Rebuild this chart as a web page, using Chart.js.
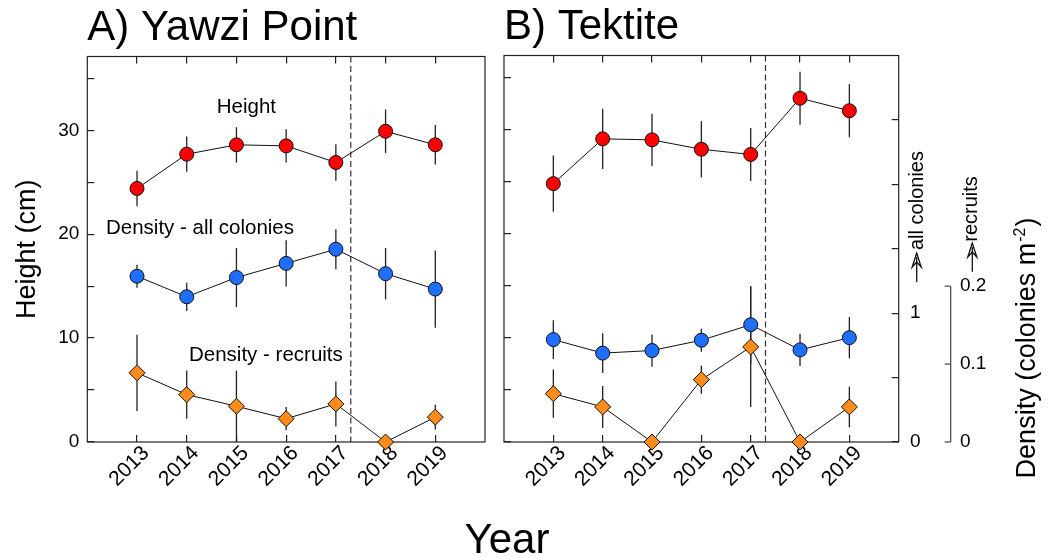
<!DOCTYPE html>
<html>
<head>
<meta charset="utf-8">
<script src="https://cdn.jsdelivr.net/npm/chart.js@4.4.1/dist/chart.umd.min.js"></script>
<style>
  html, body { margin: 0; padding: 0; background: #fff; }
  #wrap { position: relative; width: 1053px; height: 558px; overflow: hidden; font-family: "Liberation Sans", Arial, sans-serif; }
  .panel { position: absolute; top: 0; height: 558px; }
  #panelA { left: 0; width: 495px; }
  #panelB { left: 495px; width: 558px; }
  #yearLabel { position: absolute; left: 0; width: 1014px; top: 518px; text-align: center; font-size: 42px; line-height: 42px; color: #000; }
</style>
</head>
<body>
<div id="wrap">
  <div class="panel" id="panelA"><canvas id="chartA"></canvas></div>
  <div class="panel" id="panelB"><canvas id="chartB"></canvas></div>
  <div id="yearLabel">Year</div>
</div>
<script>
const FONT = '"Liberation Sans", Arial, sans-serif';
Chart.defaults.font.family = FONT;
Chart.defaults.color = '#000';

// axes
const years = [2013, 2014, 2015, 2016, 2017, 2018, 2019];
const heightTicks = [0, 5, 10, 15, 20, 25, 30, 35];
const heightLabels = [0, 10, 20, 30];
const allTicks = [0, 0.5, 1, 1.5, 2, 2.5];
const allLabels = [0, 1];
const recruitTicks = [0, 0.1, 0.2];
const stormYear = 2017.3;

// A) Yawzi Point
const yawziHeight = [24.4, 27.7, 28.6, 28.5, 26.9, 29.9, 28.6];
const yawziHeightErr = [1.7, 1.7, 1.7, 1.6, 1.75, 2.1, 1.9];
const yawziAll = [1.29, 1.13, 1.28, 1.39, 1.50, 1.31, 1.19];
const yawziAllErr = [0.09, 0.11, 0.23, 0.18, 0.155, 0.2, 0.3];
const yawziRecruits = [0.089, 0.061, 0.046, 0.030, 0.049, 0, 0.032];
const yawziRecruitsErr = [0.049, 0.031, 0.046, 0.015, 0.029, 0, 0.016];

// B) Tektite
const tektiteHeight = [24.8, 29.1, 29.0, 28.1, 27.6, 33.0, 31.8];
const tektiteHeightErr = [2.7, 2.9, 2.5, 2.7, 2.55, 2.55, 2.55];
const tektiteAll = [0.795, 0.69, 0.71, 0.79, 0.91, 0.715, 0.81];
const tektiteAllErr = [0.15, 0.155, 0.125, 0.09, 0.3, 0.125, 0.16];
const tektiteRecruits = [0.062, 0.045, 0, 0.080, 0.122, 0, 0.045];
const tektiteRecruitsErr = [0.031, 0.027, 0, 0.018, 0.077, 0, 0.026];

const RED = '#ff0000', BLUE = '#1e6eff', ORANGE = '#ff8c1a';

function series(values, errs, yAxisID, color, shape, radius) {
    return {
        data: years.map((x, i) => ({ x: x, y: values[i] })),
        errors: errs,
        yAxisID: yAxisID,
        borderColor: '#111',
        borderWidth: 1,
        pointBackgroundColor: color,
        pointBorderColor: '#111',
        pointBorderWidth: 1,
        pointStyle: shape,
        pointRadius: radius,
        pointHoverRadius: radius,
        clip: false,
        tension: 0
    };
}

// box around the plot + dashed line
const framePlugin = {
    id: 'frame',
    beforeDatasetsDraw(chart) {
        const { ctx, chartArea: a } = chart;
        const xs = chart.scales.x;
        ctx.save();
        ctx.strokeStyle = '#222';
        ctx.lineWidth = 1.2;
        ctx.strokeRect(a.left, a.top, a.right - a.left, a.bottom - a.top);
        const px = xs.getPixelForValue(stormYear);
        ctx.setLineDash([6, 3.5]);
        ctx.strokeStyle = '#333';
        ctx.beginPath();
        ctx.moveTo(px, a.top);
        ctx.lineTo(px, a.bottom);
        ctx.stroke();
        ctx.restore();
    }
};

const errorBars = {
    id: 'errorBars',
    beforeDatasetsDraw(chart) {
        const ctx = chart.ctx;
        const xs = chart.scales.x;
        ctx.save();
        ctx.strokeStyle = '#222';
        ctx.lineWidth = 1.3;
        chart.data.datasets.forEach(ds => {
            const ys = chart.scales[ds.yAxisID];
            ds.data.forEach((p, i) => {
                const e = ds.errors[i];
                if (!e) return;
                const px = xs.getPixelForValue(p.x);
                ctx.beginPath();
                ctx.moveTo(px, ys.getPixelForValue(p.y - e));
                ctx.lineTo(px, ys.getPixelForValue(p.y + e));
                ctx.stroke();
            });
        });
        ctx.restore();
    }
};

// series names written inside panel A
const seriesNotes = {
    id: 'seriesNotes',
    afterDatasetsDraw(chart) {
        const { ctx, chartArea: a } = chart;
        ctx.save();
        ctx.fillStyle = '#000';
        ctx.font = '20.5px ' + FONT;
        ctx.textBaseline = 'alphabetic';
        ctx.textAlign = 'left';
        ctx.fillText('Height', a.left + 129.5, a.top + 56.2);
        ctx.fillText('Density - all colonies', a.left + 18.7, a.top + 177.8);
        ctx.fillText('Density - recruits', a.left + 101.7, a.top + 304.5);
        ctx.restore();
    }
};

function upArrow(ctx, x, yTail, yTip) {
    ctx.beginPath();
    ctx.moveTo(x, yTail);
    ctx.lineTo(x, yTip + 4);
    ctx.stroke();
    ctx.beginPath();
    ctx.moveTo(x, yTip);
    ctx.lineTo(x - 4.5, yTip + 14);
    ctx.lineTo(x, yTip + 9);
    ctx.lineTo(x + 4.5, yTip + 14);
    ctx.closePath();
    ctx.stroke();
}

function rotatedText(ctx, text, x, y, font) {
    ctx.save();
    ctx.translate(x, y);
    ctx.rotate(-Math.PI / 2);
    ctx.font = font;
    ctx.textAlign = 'left';
    ctx.textBaseline = 'alphabetic';
    ctx.fillText(text, 0, 0);
    ctx.restore();
}

// recruits axis line, arrows and density title on the right of panel B
const densityExtras = {
    id: 'densityExtras',
    afterDraw(chart) {
        const { ctx, chartArea: a } = chart;
        const rec = chart.scales.yRec;
        const ax = rec.left;
        ctx.save();
        ctx.strokeStyle = '#444';
        ctx.fillStyle = '#000';
        ctx.lineWidth = 1.2;
        ctx.beginPath();
        ctx.moveTo(ax, rec.getPixelForValue(0));
        ctx.lineTo(ax, rec.getPixelForValue(0.2));
        ctx.stroke();
        recruitTicks.forEach(v => {
            const py = rec.getPixelForValue(v);
            ctx.beginPath();
            ctx.moveTo(ax - 6, py);
            ctx.lineTo(ax, py);
            ctx.stroke();
        });

        ctx.strokeStyle = '#111';
        ctx.lineWidth = 1.3;
        rotatedText(ctx, 'all colonies', a.right + 24.3, 250, '20px ' + FONT);
        upArrow(ctx, a.right + 18, 282, 253);
        rotatedText(ctx, 'recruits', ax + 26, 241.7, '20px ' + FONT);
        upArrow(ctx, ax + 21.6, 271.7, 243);

        // Density (colonies m-2)
        const main = '27px ' + FONT, sup = '16px ' + FONT;
        const partA = 'Density (colonies m', partB = '-2', partC = ')';
        ctx.save();
        ctx.translate(ax + 84.3, 348);
        ctx.rotate(-Math.PI / 2);
        ctx.textAlign = 'left';
        ctx.textBaseline = 'alphabetic';
        ctx.font = main;
        const w1 = ctx.measureText(partA).width, w3 = ctx.measureText(partC).width;
        ctx.font = sup;
        const w2 = ctx.measureText(partB).width;
        let x = -(w1 + w2 + w3 + 2) / 2;
        ctx.font = main;
        ctx.fillText(partA, x, 0);
        x += w1 + 1;
        ctx.font = sup;
        ctx.fillText(partB, x, -10);
        x += w2 + 1;
        ctx.font = main;
        ctx.fillText(partC, x, 0);
        ctx.restore();

        ctx.restore();
    }
};

const tickGrid = { drawOnChartArea: false, tickLength: -7, color: '#222', lineWidth: 1.2 };
const setTicks = list => scale => { scale.ticks = list.map(v => ({ value: v })); };

function xAxes() {
    return {
        x: {
            type: 'linear', position: 'bottom', min: 2012, max: 2020,
            afterBuildTicks: setTicks(years),
            afterFit: s => { s.height = 60; },
            grid: tickGrid,
            border: { display: false },
            ticks: {
                autoSkip: false, minRotation: 45, maxRotation: 45,
                padding: 6, labelOffset: 9,
                font: { size: 21 }, color: '#000',
                callback: v => String(v)
            }
        },
        xTop: {
            type: 'linear', position: 'top', min: 2012, max: 2020,
            afterBuildTicks: setTicks(years),
            afterFit: s => { s.height = 0; },
            grid: tickGrid,
            border: { display: false },
            ticks: { display: false }
        }
    };
}

function titleOpts(text, padTop, padBottom) {
    return {
        display: true, text: text, align: 'start', fullSize: false, color: '#000',
        font: { size: 42, weight: 'normal', family: FONT },
        padding: { top: padTop, bottom: padBottom }
    };
}

const baseOptions = {
    responsive: true,
    maintainAspectRatio: false,
    animation: false,
    events: []
};

new Chart(document.getElementById('chartA'), {
    type: 'line',
    data: {
        datasets: [
            series(yawziHeight, yawziHeightErr, 'y', RED, 'circle', 7),
            series(yawziAll, yawziAllErr, 'yAll', BLUE, 'circle', 7),
            series(yawziRecruits, yawziRecruitsErr, 'yRec', ORANGE, 'rectRot', 8)
        ]
    },
    options: Object.assign({}, baseOptions, {
        layout: { padding: { left: 0, right: 10, top: 0, bottom: 56 } },
        plugins: {
            legend: { display: false },
            tooltip: { enabled: false },
            title: titleOpts('A) Yawzi Point', 3.25, 2.85)
        },
        scales: Object.assign(xAxes(), {
            y: {
                type: 'linear', position: 'left', min: 0, max: 37.1,
                afterBuildTicks: setTicks(heightTicks),
                afterFit: s => { s.width = 87.3; },
                grid: tickGrid,
                border: { display: false },
                ticks: {
                    padding: 15, font: { size: 19 }, color: '#000',
                    callback: v => heightLabels.includes(v) ? String(v) : ''
                },
                title: {
                    display: true, text: 'Height (cm)', color: '#000',
                    font: { size: 27 }, padding: { top: 11.4, bottom: 0 }
                }
            },
            yAll: { type: 'linear', display: false, min: 0, max: 3 },
            yRec: { type: 'linear', display: false, min: 0, max: 0.496 }
        })
    }),
    plugins: [framePlugin, errorBars, seriesNotes]
});

new Chart(document.getElementById('chartB'), {
    type: 'line',
    data: {
        datasets: [
            series(tektiteHeight, tektiteHeightErr, 'y', RED, 'circle', 7),
            series(tektiteAll, tektiteAllErr, 'yAll', BLUE, 'circle', 7),
            series(tektiteRecruits, tektiteRecruitsErr, 'yRec', ORANGE, 'rectRot', 8)
        ]
    },
    options: Object.assign({}, baseOptions, {
        layout: { padding: { left: 0, right: 0, top: 0, bottom: 56 } },
        plugins: {
            legend: { display: false },
            tooltip: { enabled: false },
            title: titleOpts('B) Tektite', 1.95, 3.15)
        },
        scales: Object.assign(xAxes(), {
            y: {
                type: 'linear', position: 'left', min: 0, max: 37.1,
                afterBuildTicks: setTicks(heightTicks),
                afterFit: s => { s.width = 5.7; },
                grid: tickGrid,
                border: { display: false },
                ticks: { display: false }
            },
            yAll: {
                type: 'linear', position: 'right', min: 0, max: 3,
                afterBuildTicks: setTicks(allTicks),
                afterFit: s => { s.width = 52; },
                grid: tickGrid,
                border: { display: false },
                ticks: {
                    padding: 18.3, font: { size: 19 }, color: '#000',
                    callback: v => allLabels.includes(v) ? String(v) : ''
                }
            },
            yRec: {
                type: 'linear', position: 'right', min: 0, max: 0.496,
                afterBuildTicks: setTicks(recruitTicks),
                afterFit: s => { s.width = 102.3; },
                grid: { display: false, drawTicks: false },
                border: { display: false },
                ticks: {
                    padding: 9.3, font: { size: 19 }, color: '#000',
                    callback: v => String(v)
                }
            }
        })
    }),
    plugins: [framePlugin, errorBars, densityExtras]
});
</script>
</body>
</html>
